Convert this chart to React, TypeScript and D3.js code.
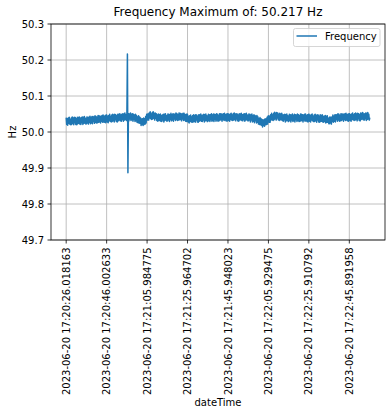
import React, { useEffect, useRef } from 'react';
import * as d3 from 'd3';

// samples every 0.25 s starting at freqStart, one row = 10 s
const freqStart = '2023-06-20 17:20:26.018163';
const sampleStepMs = 250;
const freqValues: number[] = [
	50.040, 50.021, 50.037, 50.019, 50.039, 50.024, 50.041, 50.022, 50.035, 50.020, 50.039, 50.021, 50.042, 50.024, 50.039, 50.020, 50.041, 50.026, 50.040, 50.021, 50.037, 50.020, 50.041, 50.023, 50.040, 50.024, 50.042, 50.022, 50.038, 50.021, 50.040, 50.026, 50.042, 50.021, 50.041, 50.024, 50.043, 50.025, 50.038, 50.022,
	50.023, 50.042, 50.025, 50.041, 50.022, 50.041, 50.027, 50.044, 50.023, 50.040, 50.025, 50.043, 50.023, 50.043, 50.029, 50.042, 50.024, 50.045, 50.027, 50.043, 50.025, 50.041, 50.026, 50.046, 50.027, 50.045, 50.028, 50.044, 50.025, 50.044, 50.030, 50.046, 50.027, 50.047, 50.028, 50.043, 50.027, 50.046, 50.026, 50.047,
	50.047, 50.028, 50.044, 50.026, 50.046, 50.031, 50.049, 50.030, 50.043, 50.028, 50.047, 50.029, 50.049, 50.031, 50.047, 50.028, 50.049, 50.034, 50.048, 50.029, 50.045, 50.028, 50.049, 50.031, 50.049, 50.033, 50.051, 50.031, 50.047, 50.030, 50.049, 50.035, 50.051, 50.030, 50.050, 50.033, 50.053, 50.035, 50.048, 50.032,
	50.052, 50.217, 49.887, 50.051, 50.031, 50.050, 50.036, 50.053, 50.032, 50.049, 50.034, 50.051, 50.030, 50.049, 50.035, 50.047, 50.029, 50.049, 50.031, 50.046, 50.027, 50.042, 50.026, 50.045, 50.025, 50.042, 50.024, 50.039, 50.018, 50.036, 50.021, 50.037, 50.018, 50.039, 50.021, 50.037, 50.022, 50.043, 50.025, 50.048,
	50.050, 50.033, 50.050, 50.033, 50.053, 50.039, 50.056, 50.037, 50.050, 50.035, 50.054, 50.036, 50.056, 50.038, 50.052, 50.033, 50.053, 50.038, 50.051, 50.032, 50.047, 50.030, 50.050, 50.032, 50.048, 50.032, 50.050, 50.030, 50.046, 50.029, 50.047, 50.033, 50.049, 50.028, 50.049, 50.032, 50.051, 50.033, 50.046, 50.030,
	50.031, 50.050, 50.033, 50.049, 50.029, 50.048, 50.035, 50.052, 50.031, 50.048, 50.033, 50.051, 50.030, 50.050, 50.036, 50.049, 50.032, 50.053, 50.035, 50.051, 50.032, 50.048, 50.033, 50.053, 50.034, 50.052, 50.035, 50.051, 50.031, 50.050, 50.036, 50.052, 50.032, 50.052, 50.033, 50.048, 50.030, 50.049, 50.029, 50.050,
	50.047, 50.028, 50.043, 50.025, 50.045, 50.030, 50.047, 50.028, 50.042, 50.027, 50.046, 50.028, 50.048, 50.030, 50.046, 50.027, 50.048, 50.033, 50.047, 50.028, 50.044, 50.027, 50.048, 50.030, 50.048, 50.032, 50.050, 50.030, 50.046, 50.029, 50.047, 50.033, 50.049, 50.028, 50.048, 50.031, 50.050, 50.032, 50.045, 50.029,
	50.030, 50.049, 50.032, 50.048, 50.029, 50.048, 50.034, 50.051, 50.030, 50.047, 50.032, 50.050, 50.029, 50.049, 50.035, 50.048, 50.030, 50.051, 50.033, 50.049, 50.030, 50.046, 50.031, 50.051, 50.033, 50.051, 50.034, 50.050, 50.030, 50.049, 50.035, 50.051, 50.032, 50.052, 50.033, 50.048, 50.031, 50.050, 50.030, 50.051,
	50.051, 50.032, 50.048, 50.030, 50.050, 50.035, 50.052, 50.033, 50.047, 50.032, 50.051, 50.033, 50.053, 50.035, 50.050, 50.031, 50.051, 50.036, 50.050, 50.031, 50.047, 50.030, 50.051, 50.033, 50.050, 50.034, 50.052, 50.032, 50.048, 50.031, 50.049, 50.035, 50.051, 50.030, 50.050, 50.033, 50.052, 50.034, 50.047, 50.031,
	50.031, 50.050, 50.033, 50.049, 50.028, 50.047, 50.033, 50.050, 50.028, 50.045, 50.030, 50.048, 50.026, 50.046, 50.031, 50.044, 50.025, 50.046, 50.027, 50.042, 50.022, 50.037, 50.021, 50.040, 50.020, 50.037, 50.019, 50.035, 50.014, 50.033, 50.018, 50.034, 50.016, 50.037, 50.020, 50.036, 50.021, 50.041, 50.022, 50.044,
	50.045, 50.027, 50.044, 50.027, 50.048, 50.034, 50.052, 50.033, 50.047, 50.032, 50.052, 50.034, 50.055, 50.037, 50.052, 50.033, 50.054, 50.039, 50.053, 50.034, 50.049, 50.032, 50.052, 50.034, 50.050, 50.034, 50.052, 50.032, 50.047, 50.030, 50.048, 50.034, 50.049, 50.028, 50.048, 50.031, 50.050, 50.032, 50.045, 50.029,
	50.030, 50.049, 50.032, 50.048, 50.028, 50.047, 50.033, 50.050, 50.029, 50.046, 50.031, 50.049, 50.028, 50.048, 50.034, 50.047, 50.029, 50.050, 50.032, 50.048, 50.029, 50.045, 50.030, 50.050, 50.031, 50.049, 50.032, 50.048, 50.028, 50.047, 50.033, 50.049, 50.030, 50.050, 50.031, 50.046, 50.029, 50.048, 50.028, 50.049,
	50.049, 50.030, 50.046, 50.028, 50.048, 50.033, 50.050, 50.031, 50.044, 50.029, 50.047, 50.029, 50.049, 50.031, 50.046, 50.027, 50.048, 50.033, 50.047, 50.028, 50.044, 50.027, 50.048, 50.030, 50.046, 50.030, 50.048, 50.028, 50.044, 50.027, 50.044, 50.030, 50.046, 50.025, 50.044, 50.027, 50.045, 50.027, 50.039, 50.023,
	50.023, 50.042, 50.025, 50.041, 50.022, 50.042, 50.029, 50.047, 50.027, 50.044, 50.030, 50.048, 50.028, 50.048, 50.035, 50.048, 50.030, 50.051, 50.033, 50.049, 50.030, 50.046, 50.031, 50.051, 50.032, 50.050, 50.034, 50.050, 50.030, 50.049, 50.035, 50.051, 50.032, 50.052, 50.033, 50.048, 50.031, 50.050, 50.030, 50.051,
	50.051, 50.032, 50.048, 50.030, 50.050, 50.035, 50.053, 50.034, 50.047, 50.032, 50.051, 50.033, 50.053, 50.035, 50.050, 50.031, 50.052, 50.037, 50.051, 50.032, 50.048, 50.031, 50.053, 50.035, 50.052, 50.036, 50.054, 50.034, 50.050, 50.033, 50.051, 50.037, 50.053, 50.032, 50.052, 50.035, 50.054, 50.036, 50.049, 50.033,
	50.040,
];

const xTickLabels = [
	'2023-06-20 17:20:26.018163',
	'2023-06-20 17:20:46.002633',
	'2023-06-20 17:21:05.984775',
	'2023-06-20 17:21:25.964702',
	'2023-06-20 17:21:45.948023',
	'2023-06-20 17:22:05.929475',
	'2023-06-20 17:22:25.910792',
	'2023-06-20 17:22:45.891958',
];
const yTicks = [49.7, 49.8, 49.9, 50.0, 50.1, 50.2, 50.3];

const App: React.FC = () => {
	const svgRef = useRef<SVGSVGElement | null>(null);

	useEffect(() => {
		if (!svgRef.current) return;

		const width = 392;
		const height = 416;
		const margin = { top: 24, right: 7, bottom: 176, left: 51 };
		const font = '"DejaVu Sans", sans-serif';

		const parse = d3.timeParse('%Y-%m-%d %H:%M:%S.%f');
		const t0 = parse(freqStart)!.getTime();
		const data = freqValues.map((v, i) => ({ t: new Date(t0 + i * sampleStepMs), v }));
		const maxFreq = d3.max(freqValues)!;

		const [tMin, tMax] = d3.extent(data, (d) => d.t.getTime()) as [number, number];
		const pad = (tMax - tMin) * 0.05;

		const x = d3
			.scaleTime()
			.domain([new Date(tMin - pad), new Date(tMax + pad)])
			.range([margin.left, width - margin.right]);
		const y = d3
			.scaleLinear()
			.domain([49.7, 50.3])
			.range([height - margin.bottom, margin.top]);

		const svg = d3.select(svgRef.current);
		svg.selectAll('*').remove();
		svg.attr('width', width).attr('height', height).style('font-family', font);

		svg.append('rect').attr('width', width).attr('height', height).attr('fill', 'white');

		const xTicks = xTickLabels.map((s) => ({ s, d: parse(s)! }));

		// grid
		const grid = svg.append('g').attr('stroke', '#b0b0b0').attr('stroke-width', 0.8);
		grid
			.selectAll('line.gx')
			.data(xTicks)
			.join('line')
			.attr('x1', (d) => x(d.d))
			.attr('x2', (d) => x(d.d))
			.attr('y1', margin.top)
			.attr('y2', height - margin.bottom);
		grid
			.selectAll('line.gy')
			.data(yTicks)
			.join('line')
			.attr('class', 'gy')
			.attr('x1', margin.left)
			.attr('x2', width - margin.right)
			.attr('y1', (d) => y(d))
			.attr('y2', (d) => y(d));

		// the line
		const line = d3
			.line<{ t: Date; v: number }>()
			.x((d) => x(d.t))
			.y((d) => y(d.v));
		svg
			.append('path')
			.datum(data)
			.attr('fill', 'none')
			.attr('stroke', '#1f77b4')
			.attr('stroke-width', 1.5)
			.attr('stroke-linejoin', 'round')
			.attr('d', line);

		// spines
		svg
			.append('rect')
			.attr('x', margin.left)
			.attr('y', margin.top)
			.attr('width', width - margin.left - margin.right)
			.attr('height', height - margin.top - margin.bottom)
			.attr('fill', 'none')
			.attr('stroke', 'black')
			.attr('stroke-width', 0.8);

		// y axis ticks
		const yAxis = svg.append('g').attr('font-size', 10);
		yAxis
			.selectAll('line')
			.data(yTicks)
			.join('line')
			.attr('x1', margin.left - 3.5)
			.attr('x2', margin.left)
			.attr('y1', (d) => y(d))
			.attr('y2', (d) => y(d))
			.attr('stroke', 'black')
			.attr('stroke-width', 0.8);
		yAxis
			.selectAll('text')
			.data(yTicks)
			.join('text')
			.attr('x', margin.left - 7)
			.attr('y', (d) => y(d))
			.attr('dy', '0.36em')
			.attr('text-anchor', 'end')
			.text((d) => d.toFixed(1));

		// x axis ticks
		const xAxis = svg.append('g').attr('font-size', 10);
		const yBottom = height - margin.bottom;
		xAxis
			.selectAll('line')
			.data(xTicks)
			.join('line')
			.attr('x1', (d) => x(d.d))
			.attr('x2', (d) => x(d.d))
			.attr('y1', yBottom)
			.attr('y2', yBottom + 3.5)
			.attr('stroke', 'black')
			.attr('stroke-width', 0.8);
		xAxis
			.selectAll('text')
			.data(xTicks)
			.join('text')
			.attr('transform', (d) => `translate(${x(d.d)},${yBottom + 7.5}) rotate(-90)`)
			.attr('dy', '0.36em')
			.attr('text-anchor', 'end')
			.text((d) => d.s);

		// labels
		svg
			.append('text')
			.attr('x', (margin.left + width - margin.right) / 2)
			.attr('y', 15.5)
			.attr('text-anchor', 'middle')
			.attr('font-size', 12)
			.text(`Frequency Maximum of: ${maxFreq.toFixed(3)} Hz`);
		svg
			.append('text')
			.attr('x', (margin.left + width - margin.right) / 2)
			.attr('y', 406)
			.attr('text-anchor', 'middle')
			.attr('font-size', 10)
			.text('dateTime');
		svg
			.append('text')
			.attr('transform', `translate(16,${(margin.top + yBottom) / 2}) rotate(-90)`)
			.attr('text-anchor', 'middle')
			.attr('font-size', 10)
			.text('Hz');

		// legend
		const lg = svg.append('g').attr('transform', `translate(${width - margin.right - 5},${margin.top + 4})`);
		lg.append('rect')
			.attr('x', -86.5)
			.attr('y', 0.5)
			.attr('width', 86.5)
			.attr('height', 18)
			.attr('rx', 2)
			.attr('fill', 'white')
			.attr('fill-opacity', 0.8)
			.attr('stroke', '#cccccc')
			.attr('stroke-width', 0.8);
		lg.append('line')
			.attr('x1', -83.5)
			.attr('x2', -63)
			.attr('y1', 8)
			.attr('y2', 8)
			.attr('stroke', '#1f77b4')
			.attr('stroke-width', 1.5);
		lg.append('text')
			.attr('x', -55)
			.attr('y', 12)
			.attr('font-size', 10)
			.text('Frequency');
	}, []);

	return <svg ref={svgRef} style={{ position: 'absolute', left: 0, top: 0 }}></svg>;
};

export default App;
